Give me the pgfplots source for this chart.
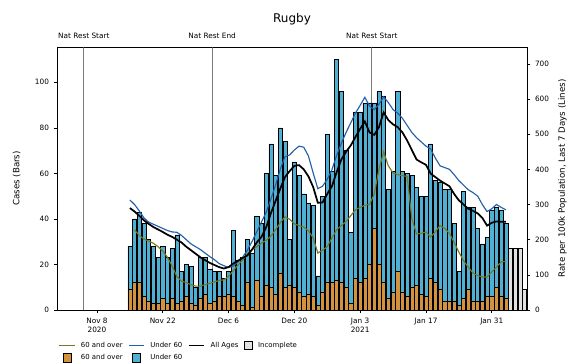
\documentclass[border=0pt]{standalone}
\usepackage{fontspec}
\setmainfont{DejaVu Sans}
\usepackage{pgfplots}
\usepackage{pgfplotstable}
\pgfplotsset{compat=1.18}

\definecolor{oldbar}{RGB}{210,146,62}
\definecolor{youngbar}{RGB}{80,176,212}
\definecolor{oldline}{RGB}{122,120,35}
\definecolor{youngline}{RGB}{35,95,170}
\definecolor{incbar}{RGB}{225,225,225}

\pgfplotsset{
  shortline/.style={legend image code/.code={\draw[##1] (0cm,0cm) -- (0.42cm,0cm);}},
  sqbox/.style={legend image code/.code={\draw[##1] (0.1cm,-0.1cm) rectangle (0.32cm,0.12cm);}},
}
\tikzset{
  restline/.style={black!65, line width=0.7pt, opacity=0.8},
  restlabel/.style={font=\fontsize{5.5}{6.5}\selectfont, inner sep=0pt, yshift=8.5pt},
}

% days counted from Nov 8 2020 = 0
\pgfplotstableread{
day over under inc
7 9 19 0
8 12 28 0
9 12 31 0
10 6 32 0
11 4 27 0
12 3 25 0
13 3 20 0
14 5 23 0
15 3 20 0
16 5 22 0
17 3 30 0
18 4 13 0
19 6 14 0
20 3 16 0
21 2 8 0
22 5 18 0
23 7 16 0
24 3 15 0
25 4 13 0
26 6 11 0
27 6 8 0
28 7 10 0
29 6 29 0
30 4 18 0
31 2 21 0
32 12 19 0
33 1 24 0
34 13 28 0
35 6 32 0
36 11 49 0
37 10 63 0
38 7 52 0
39 16 64 0
40 10 64 0
41 11 20 0
42 10 55 0
43 8 51 0
44 6 45 0
45 7 40 0
46 6 40 0
47 2 13 0
48 8 42 0
49 12 65 0
50 12 49 0
51 13 97 0
52 12 84 0
53 10 60 0
54 3 31 0
55 14 73 0
56 12 75 0
57 14 77 0
58 20 71 0
59 36 55 0
60 20 76 0
61 12 82 0
62 5 48 0
63 8 53 0
64 17 79 0
65 8 53 0
66 6 54 0
67 10 49 0
68 11 43 0
69 7 43 0
70 6 44 0
71 14 59 0
72 12 45 0
73 9 47 0
74 4 49 0
75 4 49 0
76 4 34 0
77 2 15 0
78 5 47 0
79 9 36 0
80 4 41 0
81 4 32 0
82 4 25 0
83 6 26 0
84 6 38 0
85 10 35 0
86 6 38 0
87 5 33 0
88 0 0 27
89 0 0 27
90 0 0 27
91 0 0 9
}\cases

\pgfplotstableread{
day over under all
7 nan 313 290
8 228 300 280
9 212 282 268
10 202 262 255
11 196 250 245
12 190 244 236
13 180 238 229
14 168 232 222
15 150 226 214
16 125 222 208
17 95 221 200
18 82 212 192
19 78 200 180
20 72 188 170
21 68 180 160
22 68 172 150
23 72 162 142
24 76 152 134
25 80 143 128
26 84 132 122
27 86 126 118
28 95 121 122
29 112 125 132
30 128 137 140
31 142 150 148
32 160 170 155
33 172 195 172
34 180 222 192
35 190 250 208
36 198 278 235
37 210 315 275
38 228 355 310
39 248 400 345
40 265 436 378
41 258 441 395
42 245 455 410
43 240 466 412
44 236 463 400
45 225 438 380
46 205 390 350
47 162 345 305
48 170 352 306
49 180 372 330
50 205 399 352
51 228 440 392
52 240 474 428
53 252 505 450
54 268 532 468
55 285 560 492
56 292 582 515
57 298 605 536
58 300 580 505
59 330 570 498
60 400 585 520
61 450 606 562
62 410 590 540
63 390 570 528
64 385 560 520
65 382 545 505
66 380 525 482
67 260 505 455
68 216 490 428
69 218 478 420
70 222 466 413
71 208 458 388
72 222 432 378
73 240 410 368
74 232 405 360
75 218 400 352
76 192 385 330
77 165 368 312
78 140 355 300
79 122 342 288
80 105 334 282
81 98 324 275
82 94 300 262
83 94 280 240
84 108 288 248
85 122 300 252
86 137 292 251
87 138 285 251
}\rates

\begin{document}
\begin{tikzpicture}
\begin{axis}[
  at={(0,0)}, anchor=south west,
  scale only axis, width=352.5pt, height=197.25pt,
  xmin=-8.5, xmax=91.5, ymin=0, ymax=115.5,
  ybar stacked, bar width=0.86,
  xtick={0,14,28,42,56,70,84},
  xticklabels={{Nov 8\\2020},{Nov 22},{Dec 6},{Dec 20},{Jan 3\\2021},{Jan 17},{Jan 31}},
  xticklabel style={align=center},
  ytick={0,20,...,100},
  xtick pos=bottom, ytick pos=left,
  tick align=outside, major tick length=2.5pt,
  tick style={black, line width=0.5pt},
  tick label style={font=\fontsize{5.5}{6.5}\selectfont},
  /pgf/number format/assume math mode=true,
  ylabel={Cases (Bars)},
  ylabel style={font=\fontsize{6.5}{7.5}\selectfont, yshift=4pt},
  title={Rugby},
  title style={font=\fontsize{9}{10}\selectfont, yshift=7pt},
  axis line style={line width=0.5pt},
  clip=false,
  legend columns=4,
  legend cell align=left,
  legend style={at={(0,-0.105)}, anchor=north west, draw=none, fill=none,
    font=\fontsize{5.2}{6}\selectfont, column sep=2pt, inner sep=1pt},
]
\addplot[fill=oldbar, draw=black, line width=0.4pt, forget plot] table[x=day, y=over] {\cases};
\addplot[fill=youngbar, draw=black, line width=0.4pt, forget plot] table[x=day, y=under] {\cases};
\addplot[fill=incbar, draw=black, line width=0.4pt, forget plot] table[x=day, y=inc] {\cases};

\addlegendimage{shortline, oldline, line width=0.8pt}
\addlegendentry{60 and over}
\addlegendimage{shortline, youngline, line width=0.8pt}
\addlegendentry{Under 60}
\addlegendimage{shortline, black, line width=1.3pt}
\addlegendentry{All Ages}
\addlegendimage{sqbox, fill=incbar, draw=black, line width=0.5pt}
\addlegendentry{Incomplete}
\addlegendimage{sqbox, fill=oldbar, draw=black, line width=0.5pt}
\addlegendentry{60 and over}
\addlegendimage{sqbox, fill=youngbar, draw=black, line width=0.5pt}
\addlegendentry{Under 60}

\draw[restline] (axis cs:-2.8,0) -- (axis cs:-2.8,115.5);
\draw[restline] (axis cs:24.5,0) -- (axis cs:24.5,115.5);
\draw[restline] (axis cs:58.5,0) -- (axis cs:58.5,115.5);
\node[restlabel] at (axis cs:-2.8,115.5) {Nat Rest Start};
\node[restlabel] at (axis cs:24.5,115.5) {Nat Rest End};
\node[restlabel] at (axis cs:58.5,115.5) {Nat Rest Start};
\end{axis}

\begin{axis}[
  at={(0,0)}, anchor=south west,
  scale only axis, width=352.5pt, height=197.25pt,
  xmin=-8.5, xmax=91.5, ymin=0, ymax=748,
  axis x line=none, axis y line*=right,
  ytick={0,100,...,700},
  tick align=outside, major tick length=2.5pt,
  tick style={black, line width=0.5pt},
  tick label style={font=\fontsize{5.5}{6.5}\selectfont},
  /pgf/number format/assume math mode=true,
  ylabel={Rate per 100k Population, Last 7 Days (Lines)},
  ylabel style={font=\fontsize{6.5}{7.5}\selectfont},
  axis line style={line width=0.5pt},
]
\addplot[oldline, line width=0.85pt] table[x=day, y=over] {\rates};
\addplot[youngline, line width=0.85pt] table[x=day, y=under] {\rates};
\addplot[black, line width=1.3pt] table[x=day, y=all] {\rates};
\end{axis}

\pgfresetboundingbox
\path[use as bounding box] (-42.75pt,-40.5pt) rectangle (385.5pt,232.5pt);
\end{tikzpicture}
\end{document}
